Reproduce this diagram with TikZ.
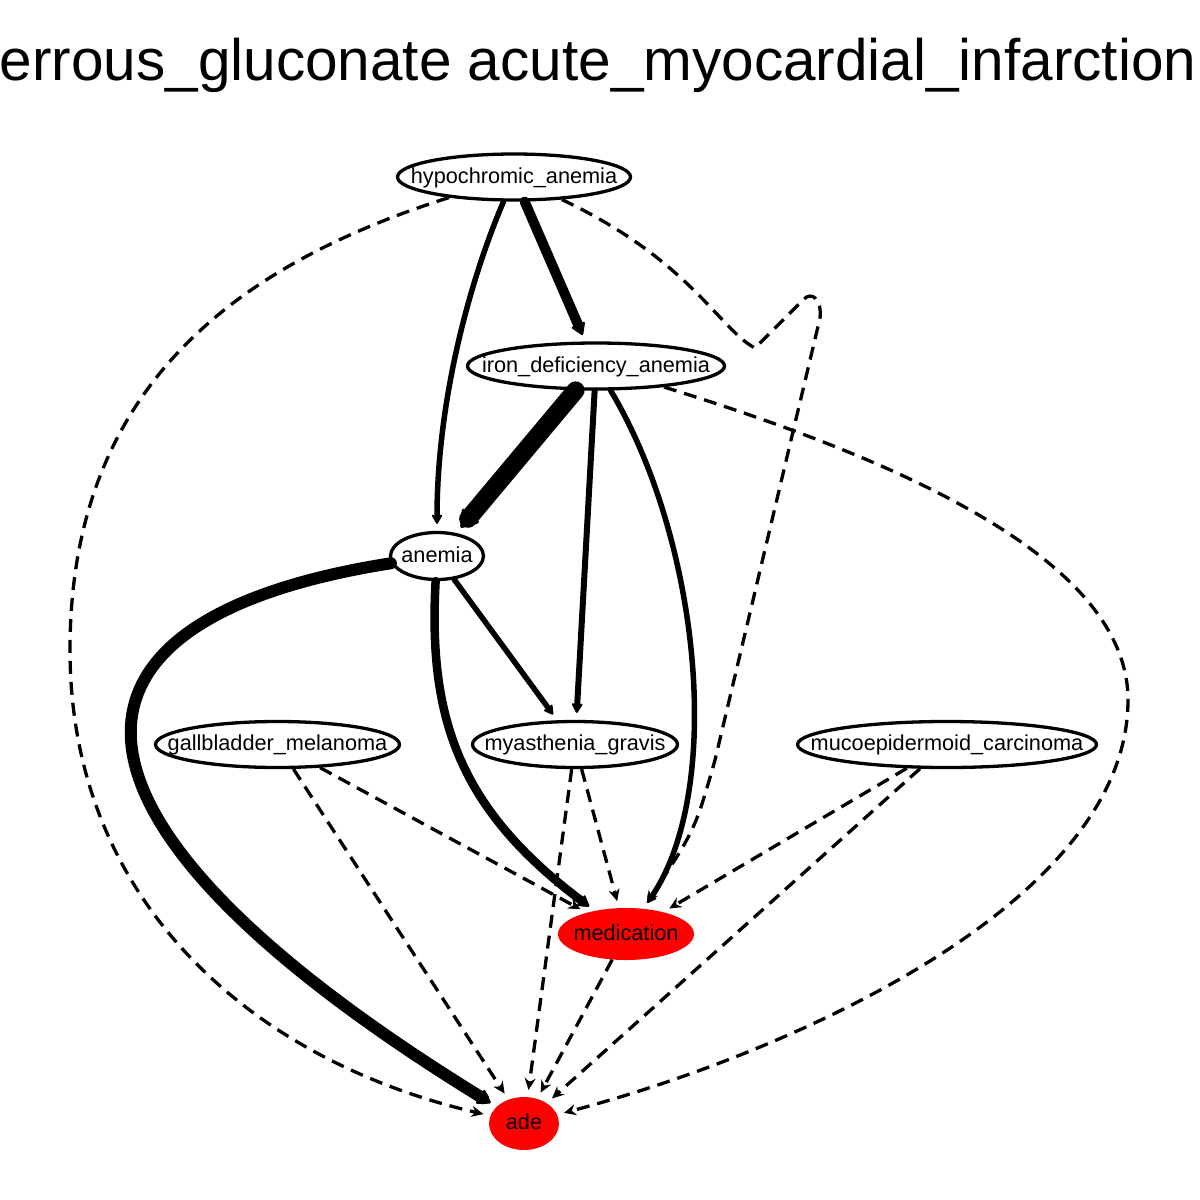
\documentclass[tikz,border=0pt]{standalone}
\usepackage{fontspec}
\setmainfont{Liberation Sans}
\usetikzlibrary{arrows.meta,shapes.geometric}
\begin{document}
\begin{tikzpicture}[x=1pt,y=-1pt,
  lbl/.style={font=\fontsize{21.7}{26}\selectfont, text height=16pt, text depth=4pt, inner sep=0pt},
  nd/.style={ellipse, draw, line width=3.3pt, lbl},
  rd/.style={ellipse, fill=red, lbl},
  sol/.style={line width=#1, line cap=round, shorten >=7pt, -{Stealth[length=8pt 0.7,width=7pt 1.15,round]}},
  dsh/.style={line width=3.3pt, dash pattern=on 13pt off 8pt, shorten >=7pt, -{Stealth[length=12pt,width=11pt]}}
]
\path[use as bounding box, fill=white] (0,0) rectangle (1200,1200);
\clip (0,0) rectangle (1200,1200);

\node[font=\fontsize{58.5}{70}\selectfont, anchor=base, inner sep=0pt] (title) at (590,80) {ferrous\_gluconate acute\_myocardial\_infarction};

\node[nd, minimum width=233pt, minimum height=46pt] (hypo) at (514,177) {\makebox[0pt]{hypochromic\_anemia}};
\node[nd, minimum width=257pt, minimum height=46pt] (iron) at (596,366) {\makebox[0pt]{iron\_deficiency\_anemia}};
\node[nd, minimum width=93pt, minimum height=47pt] (anemia) at (437,556) {\makebox[0pt]{anemia}};
\node[nd, minimum width=244pt, minimum height=46pt] (gall) at (277.5,744.5) {\makebox[0pt]{gallbladder\_melanoma}};
\node[nd, minimum width=205pt, minimum height=46pt] (myas) at (575,744.5) {\makebox[0pt]{myasthenia\_gravis}};
\node[nd, minimum width=299pt, minimum height=46pt] (muco) at (947,744.5) {\makebox[0pt]{mucoepidermoid\_carcinoma}};
\node[rd, minimum width=136pt, minimum height=52pt] (med) at (626,934) {\makebox[0pt]{medication}};
\node[rd, minimum width=70pt, minimum height=53pt] (ade) at (524,1123.5) {\makebox[0pt]{ade}};

% solid edges
\draw[sol=5.5pt] (hypo) .. controls (470,280) and (437,400) .. (anemia);
\draw[sol=10pt] (hypo) -- (iron);
\draw[sol=18pt] (iron) -- (anemia);
\draw[sol=6pt] (iron) -- (myas);
\draw[sol=5.5pt] (iron) .. controls (700,540) and (725,790) .. (med);
\draw[sol=5.5pt] (anemia) -- (myas);
\draw[sol=8.5pt] (anemia) .. controls (428,720) and (460,810) .. (med);
\draw[sol=12pt] (anemia) .. controls (30,620) and (30,820) .. (ade);

% dashed edges
\draw[dsh] (hypo) .. controls (220,270) and (70,400) .. (70,650) .. controls (70,900) and (250,1060) .. (ade);
\draw[dsh] (hypo) .. controls (690,260) and (720,330) .. (755,348) -- (803,300) .. controls (812,290) and (822,300) .. (820,318) -- (715,760) .. controls (695,830) .. (med);
\draw[dsh] (iron) .. controls (900,460) and (1128,560) .. (1128,700) .. controls (1128,900) and (800,1050) .. (ade);
\draw[dsh] (gall) -- (med);
\draw[dsh] (gall) -- (ade);
\draw[dsh] (myas) -- (ade);
\draw[dsh] (myas) -- (med);
\draw[dsh] (muco) -- (med);
\draw[dsh] (muco) -- (ade);
\draw[dsh] (med) -- (ade);
\end{tikzpicture}
\end{document}
